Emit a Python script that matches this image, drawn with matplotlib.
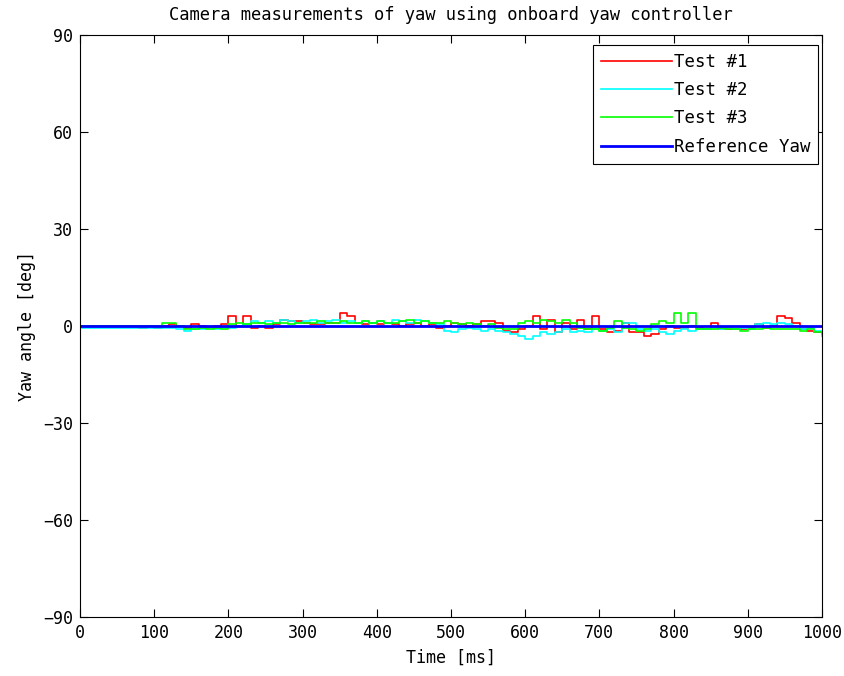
import numpy as np
import matplotlib
matplotlib.use("Agg")
import matplotlib.pyplot as plt

# time axis, one sample every 10 ms
time_ms = np.arange(0, 1001, 10)

# yaw readings [deg]
test1 = [0, 0, 0, 0, 0, 0, 0, 0, -0.5, 0,
         -0.5, 0, 0.5, 0, -0.5, 0.5, 0, -0.5, 0, 0.5,
         3, 0, 3, -0.5, 0, -0.5, 0.5, 2, 1.5, 1.5,
         1, 0.5, 0.5, 1, 1, 4, 3, 1, 0.5, 1,
         0.5, 1, 0.5, 0, 0.5, 1, 0, 0.5, -0.5, 0,
         1, 0.5, 0, 0.5, 1.5, 1.5, 1, -1.5, -2, -1,
         0, 3, -1, 2, -2, 1, -1, 2, -1, 3,
         -1, -2, -1.5, 1, -2, -2, -3, -2.5, -1, 0,
         -0.5, -0.5, 0, -0.5, -1, 1, -1, -1, -1, -1,
         -0.5, 0.5, -0.5, 0, 3, 2.5, 1, -1, -1.5, -2,
         -2]
test2 = [-0.5, -0.5, -0.5, -0.5, -0.5, -0.5, -0.5, -0.5, -0.5, -0.5,
         -0.5, -0.5, -0.5, -1, -1.5, -1, -1, -0.5, -1, -0.5,
         -0.5, 0, 0.5, 1.5, 1, 1.5, 1, 2, 1.5, 1,
         1.5, 2, 1, 1.5, 2, 1, 1.5, 1, 1.5, 1,
         1.5, 1, 2, 1.5, 1, 2, 1.5, 1, 0.5, -1.5,
         -2, -1, -0.5, -1, -1.5, -1, -1.5, -2, -2.5, -3,
         -4, -3, -2, -2.5, -2, -1, -2, -1.5, -2, -1,
         -1.5, -1, -2, 1, 1, -1, -1.5, -1, -2, -2.5,
         -1.5, -1, -1.5, -1, -1, -0.5, -1, -0.5, -1, -0.5,
         -1, 0.5, 1, 0.5, 1, 0.5, 0, -1, -0.5, -1.5,
         -3]
test3 = [0, 0, 0, 0, 0, 0, 0, 0, 0, 0,
         0, 1, 1, 0, -1, -1, -0.5, -1, -0.5, -1,
         0.5, 1, 0.5, 1, 1, 0.5, 1, 1, 0.5, 1,
         1, 1, 1.5, 1, 1, 1.5, 1, 1, 1.5, 1,
         1.5, 1, 1, 1.5, 2, 1, 1.5, 1, 1, 1.5,
         1, 0.5, 1, 0.5, 0, 0.5, -0.5, -1, -1, 1,
         1.5, 1, 2, 1.5, 1, 2, 1, -0.5, -1, -1,
         -1.5, -0.5, 1.5, -0.5, -1, -1.5, -1, 0.5, 1.5, 1,
         4, 1, 4, -1, -1, -1, -0.5, -1, -1, -1.5,
         -1, -1, -0.5, -1, -1, -1, -1, -1.5, -1, -2,
         -2.5]
reference_yaw = [0, 0]
reference_t = [0, 1000]

plt.rcParams['font.family'] = ['DejaVu Sans Mono']
plt.rcParams['font.size'] = 12

fig = plt.figure(figsize=(8.44, 6.76), dpi=100)
ax = fig.add_axes([0.0948, 0.0873, 0.879, 0.861])

ax.plot(time_ms, test1, color='#ff0000', lw=1.2, drawstyle='steps-post', label='Test #1')
ax.plot(time_ms, test2, color='#00ffff', lw=1.2, drawstyle='steps-post', label='Test #2')
ax.plot(time_ms, test3, color='#00ff00', lw=1.2, drawstyle='steps-post', label='Test #3')
ax.plot(reference_t, reference_yaw, color='#0000ff', lw=2, label='Reference Yaw')

ax.set_xlim(0, 1000)
ax.set_ylim(-90, 90)
ax.set_xticks(np.arange(0, 1001, 100))
ax.set_yticks(np.arange(-90, 91, 30))
ax.tick_params(direction='in', top=True, right=True, length=6, width=0.8,
               labelsize=12, pad=5)
for s in ax.spines.values():
    s.set_linewidth(0.8)

ax.set_title('Camera measurements of yaw using onboard yaw controller',
             fontsize=12.3, pad=11)
ax.set_xlabel('Time [ms]', fontsize=12, labelpad=5)
ax.set_ylabel('Yaw angle [deg]', fontsize=12, labelpad=5)

leg = ax.legend(loc='upper right', bbox_to_anchor=(0.9946, 0.983),
                borderaxespad=0, fancybox=False, edgecolor='black',
                framealpha=1, handlelength=4.1, handletextpad=0.1,
                borderpad=0.45, labelspacing=0.6, fontsize=12.5)
leg.get_frame().set_linewidth(0.8)

fig.savefig('out.png', dpi=100)
